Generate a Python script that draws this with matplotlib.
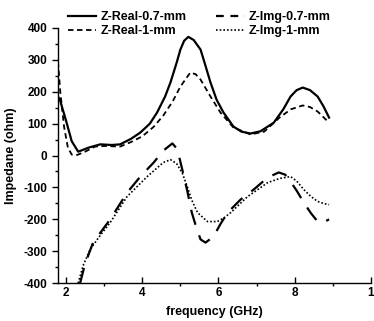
import matplotlib.pyplot as plt
from matplotlib.ticker import MultipleLocator

plt.rcParams['font.family'] = ['Liberation Sans', 'DejaVu Sans']
plt.rcParams['font.weight'] = 'bold'
plt.rcParams['axes.unicode_minus'] = False

# 数据
x_real07 = [1.79, 1.84, 2.0, 2.15, 2.32, 2.6, 2.9, 3.2, 3.42, 3.7, 3.95, 4.2, 4.39, 4.6, 4.74, 4.9, 5.0, 5.1,
            5.21, 5.35, 5.53, 5.65, 5.79, 5.95, 6.13, 6.39, 6.6, 6.84, 7.1, 7.45, 7.7, 7.89, 8.05, 8.21, 8.4, 8.6, 8.75, 8.9]
y_real07 = [185, 175, 110, 45, 12, 25, 35, 33, 35, 52, 72, 100, 135, 185, 229, 290, 332, 360,
            372, 362, 332, 285, 229, 175, 135, 91, 75, 69, 76, 103, 145, 185, 205, 213, 205, 185, 155, 119]

x_real1 = [1.79, 1.85, 1.95, 2.05, 2.15, 2.3, 2.5, 2.76, 3.0, 3.42, 3.7, 4.0, 4.3, 4.55, 4.8, 5.0,
           5.26, 5.4, 5.53, 5.79, 6.05, 6.39, 6.84, 7.2, 7.6, 7.9, 8.21, 8.4, 8.6, 8.9]
y_real1 = [295, 200, 90, 25, 3, 2, 12, 28, 30, 28, 42, 60, 90, 125, 170, 216,
           260, 255, 238, 185, 135, 88, 66, 75, 119, 145, 157, 152, 138, 103]

x_img07 = [2.37, 2.5, 2.71, 3.16, 3.6, 3.95, 4.3, 4.55, 4.79, 4.92, 5.05, 5.18, 5.3, 5.43, 5.53, 5.66,
           5.87, 6.05, 6.24, 6.58, 6.92, 7.29, 7.58, 7.75, 7.89, 8.05, 8.24, 8.42, 8.6, 8.75, 8.9]
y_img07 = [-400, -340, -273, -200, -117, -66, -22, 15, 38, 20, -44, -110, -179, -230, -263, -273,
           -254, -215, -179, -138, -107, -69, -53, -60, -82, -110, -148, -180, -207, -210, -200]

x_img1 = [2.32, 2.45, 2.63, 2.9, 3.16, 3.6, 4.13, 4.55, 4.74, 4.9, 5.05, 5.18, 5.3, 5.45, 5.71,
          5.97, 6.15, 6.32, 6.76, 7.29, 7.6, 7.89, 8.05, 8.24, 8.42, 8.6, 8.75, 8.9]
y_img1 = [-400, -345, -295, -250, -210, -129, -66, -22, -13, -25, -55, -97, -140, -179, -207,
          -207, -195, -179, -129, -85, -72, -66, -80, -107, -128, -144, -150, -154]

fig = plt.figure(figsize=(3.74, 3.21), dpi=100)
ax = fig.add_axes([0.155, 0.118, 0.837, 0.795])

# 列顺序: 第一列 Real, 第二列 Img
ax.plot(x_real07, y_real07, color='k', linewidth=1.6, label='Z-Real-0.7-mm')
ax.plot(x_real1, y_real1, color='k', linewidth=1.3, dashes=(3, 2), label='Z-Real-1-mm')
ax.plot(x_img07, y_img07, color='k', linewidth=1.6, dashes=(7, 5), label='Z-Img-0.7-mm')
ax.plot(x_img1, y_img1, color='k', linewidth=1.2, dashes=(1, 1.2), label='Z-Img-1-mm')

ax.set_xlim(1.79, 10)
ax.set_ylim(-400, 400)
ax.set_xticks([2, 4, 6, 8, 10])
ax.set_xticklabels(['2', '4', '6', '8', '1'])
ax.set_yticks([-400, -300, -200, -100, 0, 100, 200, 300, 400])
ax.xaxis.set_minor_locator(MultipleLocator(1))
ax.yaxis.set_minor_locator(MultipleLocator(50))
ax.tick_params(axis='both', which='major', length=4, width=1, labelsize=8.5)
ax.tick_params(axis='both', which='minor', length=2.5, width=1)
ax.tick_params(axis='x', direction='in', pad=3)
for lab in ax.get_xticklabels() + ax.get_yticklabels():
    lab.set_fontweight('bold')
ax.spines['top'].set_visible(False)
ax.spines['right'].set_visible(False)
ax.spines['left'].set_linewidth(1)
ax.spines['bottom'].set_linewidth(1)

ax.set_xlabel('frequency (GHz)', fontsize=9, fontweight='bold', labelpad=5)
ax.set_ylabel('Impedane (ohm)', fontsize=9, fontweight='bold', labelpad=5)

leg = ax.legend(ncol=2, frameon=False, fontsize=9, loc='lower left',
                bbox_to_anchor=(0.015, 0.945), handlelength=2.3, handletextpad=0.3,
                columnspacing=2.4, labelspacing=0.15, borderaxespad=0)
for t in leg.get_texts():
    t.set_fontweight('bold')
# 图例中的长虚线显示为两段
leg.get_lines()[2].set_dashes((3.5, 3))

fig.savefig('out.png', dpi=100)
